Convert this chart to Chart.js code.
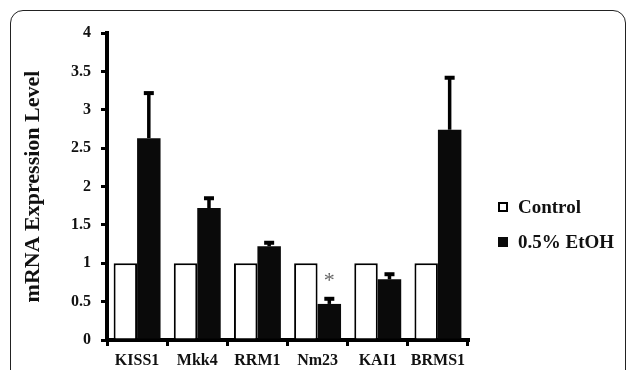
<!DOCTYPE html>
<html>
<head>
<meta charset="utf-8">
<script src="https://cdn.jsdelivr.net/npm/chart.js@4"></script>
<style>
  body { margin: 0; background: #fff; }
  #wrap { position: relative; width: 629px; height: 370px; overflow: hidden; }
  #frame {
    position: absolute; left: 10px; top: 10px; width: 616px; height: 420px;
    border: 1.5px solid #222; border-radius: 13px; box-sizing: border-box;
  }
  canvas { position: absolute; left: 0; top: 0; }
  .leg { position: absolute; left: 498px; font: bold 19px "Liberation Serif", serif; color: #111; white-space: nowrap; }
  .leg span.box { display: inline-block; width: 10px; height: 10px; box-sizing: border-box; margin-right: 10px; vertical-align: 1px; }
</style>
</head>
<body>
<div id="wrap">
  <div id="frame"></div>
  <canvas id="c" width="629" height="370"></canvas>
  <div id="legend"></div>
</div>
<script>
const genes = ['KISS1', 'Mkk4', 'RRM1', 'Nm23', 'KAI1', 'BRMS1'];
const seriesNames = ['Control', '0.5% EtOH'];
const controlValues = [1, 1, 1, 1, 1, 1];
const etohValues = [2.63, 1.72, 1.22, 0.47, 0.79, 2.74];
const etohErrors = [0.60, 0.14, 0.06, 0.08, 0.08, 0.69];
const marks = ['', '', '', '*', '', ''];

const serif = '"Liberation Serif", "Times New Roman", serif';

// error bars + significance star on the EtOH bars
const errorBars = {
  id: 'errorBars',
  afterDatasetsDraw(chart) {
    const ctx = chart.ctx;
    const y = chart.scales.y;
    const meta = chart.getDatasetMeta(1);
    ctx.save();
    ctx.strokeStyle = '#000';
    ctx.fillStyle = '#000';
    meta.data.forEach((bar, i) => {
      const top = y.getPixelForValue(etohValues[i] + etohErrors[i]);
      ctx.lineWidth = 3.5;
      ctx.beginPath();
      ctx.moveTo(bar.x, bar.y);
      ctx.lineTo(bar.x, top);
      ctx.stroke();
      ctx.fillRect(bar.x - 5, top - 1, 10, 4);
      if (marks[i]) {
        ctx.fillStyle = '#666';
        ctx.font = '22px ' + serif;
        ctx.textAlign = 'center';
        ctx.textBaseline = 'middle';
        ctx.fillText(marks[i], bar.x, top - 17);
        ctx.fillStyle = '#000';
      }
    });
    ctx.restore();
  }
};

new Chart('c', {
  type: 'bar',
  data: {
    labels: genes,
    datasets: [{
      label: seriesNames[0],
      data: controlValues,
      backgroundColor: '#fff',
      borderColor: '#000',
      borderWidth: 2,
    }, {
      label: seriesNames[1],
      data: etohValues,
      backgroundColor: '#0a0a0a',
      borderWidth: 0,
    }],
  },
  options: {
    responsive: false,
    animation: false,
    layout: { padding: { top: 33, right: 161, left: 20, bottom: 0 } },
    datasets: { bar: { categoryPercentage: 0.78, barPercentage: 1.0 } },
    scales: {
      x: {
        afterFit: (s) => { s.height = 30; },
        grid: { drawOnChartArea: false, tickLength: 6, lineWidth: 3, color: '#000' },
        border: { display: true, color: '#000', width: 4 },
        ticks: {
          color: '#111',
          padding: 5,
          maxRotation: 0,
          minRotation: 0,
          autoSkip: false,
          font: { family: serif, size: 16, weight: 'bold' },
        },
      },
      y: {
        min: 0,
        max: 4,
        afterFit: (s) => { s.width = 87; },
        grid: { drawOnChartArea: false, tickLength: 6, lineWidth: 3, color: '#000' },
        border: { display: true, color: '#000', width: 4 },
        ticks: {
          stepSize: 0.5,
          color: '#111',
          padding: 10,
          callback: (v) => String(v),
          font: { family: serif, size: 16, weight: 'bold' },
        },
        title: {
          display: true,
          text: 'mRNA Expression Level',
          color: '#111',
          padding: { top: 0, bottom: 0 },
          font: { family: serif, size: 22, weight: 'bold' },
        },
      },
    },
    plugins: {
      legend: { display: false },
      tooltip: { enabled: false },
    },
  },
  plugins: [errorBars],
});

// legend as text on the right
const legendTops = [196, 231];
const legendBoxes = ['background:#fff;border:2.5px solid #000', 'background:#0a0a0a'];
document.getElementById('legend').innerHTML = seriesNames.map((name, i) =>
  '<div class="leg" style="top:' + legendTops[i] + 'px"><span class="box" style="' + legendBoxes[i] + '"></span>' + name + '</div>'
).join('');
</script>
</body>
</html>
